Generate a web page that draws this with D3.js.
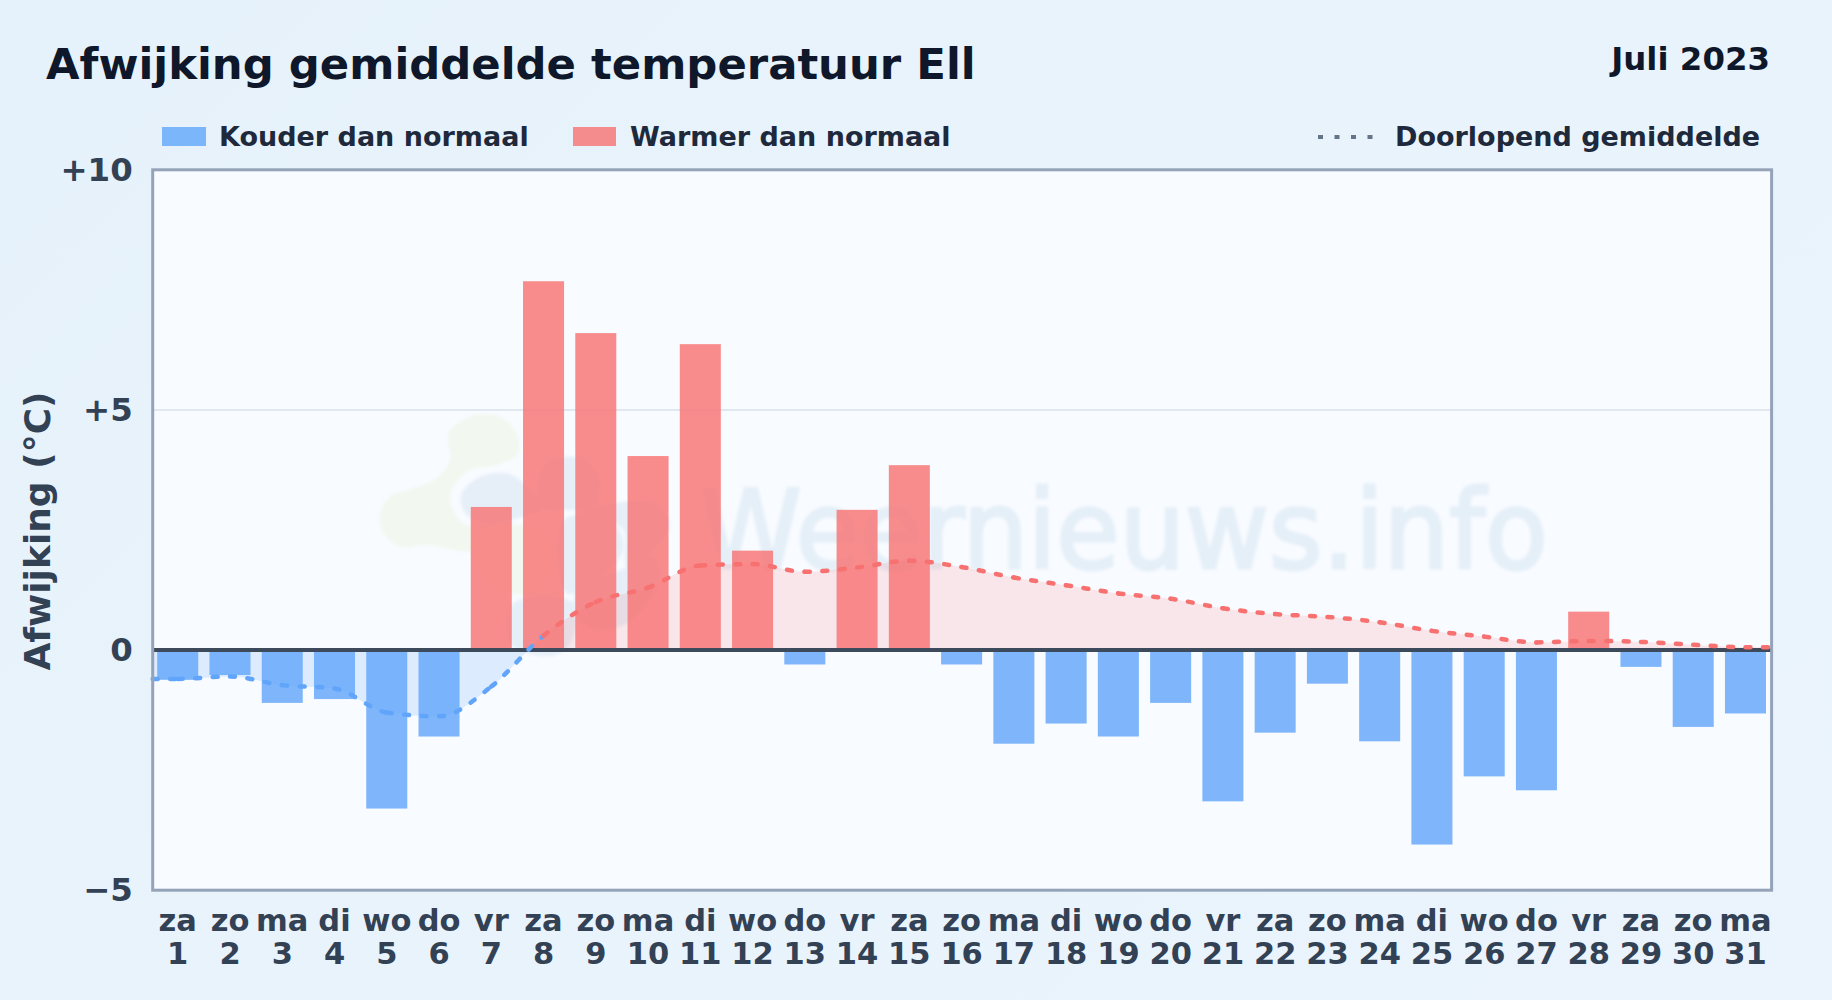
<!DOCTYPE html>
<html>
<head>
<meta charset="utf-8">
<script src="https://d3js.org/d3.v7.min.js"></script>
<style>
  html, body { margin: 0; padding: 0; width: 1832px; height: 1000px; overflow: hidden; }
  body { background: linear-gradient(135deg, #e6f2fb, #ebf4fc); }
  svg { display: block; font-family: "DejaVu Sans", sans-serif; font-weight: 700; }
</style>
</head>
<body>
<svg id="chart" width="1832" height="1000"></svg>
<script>
const weekdays = ['za','zo','ma','di','wo','do','vr','za','zo','ma','di','wo','do','vr','za','zo','ma','di','wo','do','vr','za','zo','ma','di','wo','do','vr','za','zo','ma']
const days = d3.range(1, 32)
const deviation = [-0.62,-0.52,-1.1,-1.02,-3.3,-1.8,2.98,7.68,6.6,4.04,6.37,2.07,-0.3,2.92,3.85,-0.3,-1.95,-1.53,-1.8,-1.1,-3.15,-1.72,-0.7,-1.9,-4.05,-2.63,-2.92,0.8,-0.35,-1.6,-1.32]
const runningMean = [-0.6,-0.55,-0.73,-0.8,-1.3,-1.38,-0.76,0.3,1.0,1.3,1.76,1.79,1.63,1.72,1.86,1.73,1.51,1.35,1.18,1.07,0.87,0.75,0.69,0.58,0.4,0.28,0.16,0.19,0.17,0.11,0.06]
const yTicks = [-5, 0, 5, 10]
const yTickLabels = ['\u22125', '0', '+5', '+10']

const COLD = '#60a5fa', WARM = '#f87171'
const svg = d3.select('#chart')
const plot = { left: 152.7, right: 1771.6, top: 169.8, bottom: 890.2 }

const x = d3.scaleBand().domain(days).range([151.6, 1771.6]).paddingInner(.215).paddingOuter(.1075)
const y = d3.scaleLinear().domain([-5, 10]).range([plot.bottom, plot.top])
const cx = d => x(d) + x.bandwidth() / 2

// title block
svg.append('text').attr('x', 46).attr('y', 79).attr('font-size', 43.35).attr('fill', '#0f172a')
  .text('Afwijking gemiddelde temperatuur Ell')
svg.append('text').attr('x', 1770).attr('y', 70).attr('text-anchor', 'end').attr('font-size', 32.4).attr('fill', '#0f172a')
  .text('Juli 2023')

// legend
const legend = svg.append('g').attr('font-size', 27).attr('fill', '#1e293b')
legend.append('rect').attr('x', 162).attr('y', 127).attr('width', 44).attr('height', 19).attr('fill', COLD).attr('opacity', .8)
legend.append('text').attr('x', 219).attr('y', 146).text('Kouder dan normaal')
legend.append('rect').attr('x', 573).attr('y', 127).attr('width', 43).attr('height', 19).attr('fill', WARM).attr('opacity', .8)
legend.append('text').attr('x', 630).attr('y', 146).text('Warmer dan normaal')
legend.append('line').attr('x1', 1318).attr('x2', 1374).attr('y1', 137).attr('y2', 137)
  .attr('stroke', '#64748b').attr('stroke-width', 4).attr('stroke-dasharray', '5 11.5')
legend.append('text').attr('x', 1395).attr('y', 146).text('Doorlopend gemiddelde')

// plot background
svg.append('rect').attr('x', plot.left).attr('y', plot.top)
  .attr('width', plot.right - plot.left).attr('height', plot.bottom - plot.top).attr('fill', '#f8fbff')

const defs = svg.append('defs')
defs.append('filter').attr('id', 'soft').append('feGaussianBlur').attr('stdDeviation', 1.5)
defs.append('clipPath').attr('id', 'above').append('rect')
  .attr('x', plot.left).attr('y', plot.top).attr('width', plot.right - plot.left).attr('height', y(0) - plot.top)
defs.append('clipPath').attr('id', 'below').append('rect')
  .attr('x', plot.left).attr('y', y(0)).attr('width', plot.right - plot.left).attr('height', plot.bottom - y(0))

// watermark: blobs of the logo + site name
const logoGreen = [
  [[265,130],[330,80],[420,80],[470,130],[475,190],[410,225],[330,240],[280,290],[272,340],[310,400],[360,420],[340,480],[200,465],[120,470],[70,430],[60,370],[90,320],[160,295],[230,265],[270,210]],
  [[350,430],[480,405],[570,440],[580,540],[520,610],[420,600],[360,540]]
]
const logoBlue = [
  [[305,310],[360,260],[440,250],[490,280],[530,330],[540,360],[470,385],[400,400],[340,390],[310,360]],
  [[530,290],[560,220],[640,200],[700,230],[720,290],[700,350],[620,360],[540,350]],
  [[640,380],[760,340],[880,340],[930,400],[880,480],[800,530],[790,420],[720,385]],
  [[440,700],[460,640],[520,620],[640,640],[640,740],[600,790],[520,795],[450,760]],
  [[650,600],[780,540],[880,500],[900,560],[800,700],[720,720],[650,680]],
  [[610,390],[760,400],[790,480],[720,560],[620,610]]
]
const blob = d3.line().x(p => 360 + p[0] / 3).y(p => 390 + p[1] / 3).curve(d3.curveCatmullRomClosed)
const mark = svg.append('g').attr('filter', 'url(#soft)')
mark.selectAll('path.g').data(logoGreen).join('path').attr('class', 'g').attr('d', blob).attr('fill', '#f2f8f0')
mark.selectAll('path.b').data(logoBlue).join('path').attr('class', 'b').attr('d', blob).attr('fill', '#e6eff8')
mark.append('text').attr('x', 700).attr('y', 568).attr('font-size', 108).attr('font-weight', 400)
  .attr('textLength', 848).attr('lengthAdjust', 'spacingAndGlyphs')
  .attr('fill', '#e5eff8').attr('stroke', '#e5eff8').attr('stroke-width', 3)
  .text('Weernieuws.info')

// grid
svg.append('line').attr('x1', plot.left).attr('x2', plot.right).attr('y1', y(5)).attr('y2', y(5))
  .attr('stroke', '#e2e8f0').attr('stroke-width', 2)

// running mean, edge to edge
const meanPts = [[plot.left, runningMean[0]]]
  .concat(days.map((d, i) => [cx(d), runningMean[i]]))
  .concat([[plot.right, runningMean[30]]])

const area = d3.area().x(p => p[0]).y0(y(0)).y1(p => y(p[1])).curve(d3.curveMonotoneX)
svg.append('path').datum(meanPts).attr('d', area).attr('fill', WARM).attr('opacity', .15).attr('clip-path', 'url(#above)')
svg.append('path').datum(meanPts).attr('d', area).attr('fill', COLD).attr('opacity', .18).attr('clip-path', 'url(#below)')

// bars
svg.selectAll('rect.bar').data(deviation).join('rect').attr('class', 'bar')
  .attr('x', (d, i) => x(days[i])).attr('width', x.bandwidth())
  .attr('y', d => y(Math.max(d, 0))).attr('height', d => Math.abs(y(d) - y(0)))
  .attr('fill', d => d < 0 ? COLD : WARM).attr('opacity', .8)

// zero line
svg.append('line').attr('x1', plot.left).attr('x2', plot.right).attr('y1', y(0)).attr('y2', y(0))
  .attr('stroke', '#3d4a5c').attr('stroke-width', 4)

// every day has its own dashed piece, so the dash pattern restarts per day
const curve = d3.line().x(p => p[0]).y(p => y(p[1])).curve(d3.curveMonotoneX)(meanPts)
const pieces = curve.split('C').slice(1)
svg.selectAll('path.mean').data(pieces).join('path').attr('class', 'mean')
  .attr('d', (d, i) => `M${meanPts[i][0]},${y(meanPts[i][1])}C${d}`).attr('fill', 'none')
  .attr('stroke', (d, i) => meanPts[i][1] < 0 ? COLD : WARM)
  .attr('stroke-width', 4.5).attr('stroke-linecap', 'round').attr('stroke-dasharray', '5 12.5')

// frame
svg.append('rect').attr('x', plot.left).attr('y', plot.top)
  .attr('width', plot.right - plot.left).attr('height', plot.bottom - plot.top)
  .attr('fill', 'none').attr('stroke', '#94a3b8').attr('stroke-width', 3)

// axes
const yAxis = svg.append('g').attr('transform', `translate(${plot.left},0)`)
  .call(d3.axisLeft(y).tickValues(yTicks).tickFormat((d, i) => yTickLabels[i]).tickSize(0).tickPadding(20))
yAxis.attr('font-family', null).attr('font-size', null)
yAxis.select('.domain').remove()
yAxis.selectAll('text').attr('font-size', 32.4).attr('fill', '#334155')

const xAxis = svg.append('g').attr('transform', `translate(0,${plot.bottom})`)
  .call(d3.axisBottom(x).tickSize(0).tickFormat(d => d))
xAxis.attr('font-family', null).attr('font-size', null)
xAxis.select('.domain').remove()
xAxis.selectAll('text').each(function(d, i) {
  const t = d3.select(this).text(null).attr('y', 0).attr('dy', null).attr('font-size', 30.5).attr('fill', '#334155')
  t.append('tspan').attr('x', 0).attr('y', 40.5).text(weekdays[i])
  t.append('tspan').attr('x', 0).attr('y', 74).text(d)
})

svg.append('text').attr('transform', 'translate(50,531) rotate(-90)').attr('text-anchor', 'middle')
  .attr('font-size', 36).attr('fill', '#334155').text('Afwijking (°C)')
</script>
</body>
</html>
